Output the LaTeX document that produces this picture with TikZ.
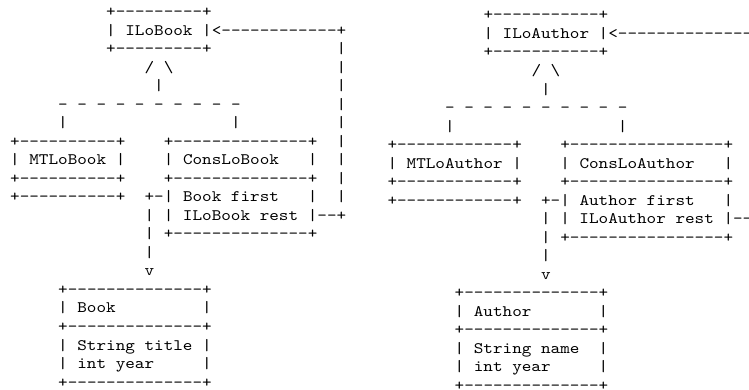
\documentclass[tikz,border=0pt]{standalone}
\usepackage{fontspec}
\setmonofont{lmmono10-regular.otf}[FakeStretch=1.143]
\newcommand\Ltok[4]{\node[tok] (#1) at ({10.2+9.6*#2},{16.5+18.53*#3}) {\spaceskip=9.6pt\relax #4};}
\newcommand\Rtok[4]{\node[tok] (#1) at ({387.5+9.6*#2},{19.9+18.53*#3}) {\spaceskip=9.6pt\relax #4};}
\begin{document}
\begin{tikzpicture}[x=1pt,y=-1pt,
  tok/.style={anchor=base west, inner sep=0pt, outer sep=0pt,
    font=\ttfamily\fontsize{16pt}{18pt}\selectfont, text=black}]
\useasboundingbox (0,0) rectangle (749,389);
\clip (0,0) rectangle (749,389);
% ---------------- left diagram ----------------
\Ltok{lb0}{10}{0}{+---------+}
\Ltok{lb1}{10}{1}{| ILoBook |<------------+}
\Ltok{lb2}{10}{2}{+---------+}
\Ltok{lv2}{34}{2}{|}
\Ltok{lh3}{14}{3}{/ \textbackslash}
\Ltok{lv3}{34}{3}{|}
\Ltok{lh4}{15}{4}{|}
\Ltok{lv4}{34}{4}{|}
\Ltok{ld5}{5}{5}{- - - - - - - - - -}
\Ltok{lv5}{34}{5}{|}
\Ltok{la6}{5}{6}{|}
\Ltok{lb6}{23}{6}{|}
\Ltok{lv6}{34}{6}{|}
\Ltok{lm7}{0}{7}{+----------+}
\Ltok{lc7}{16}{7}{+--------------+}
\Ltok{lv7}{34}{7}{|}
\Ltok{lm8}{0}{8}{| MTLoBook |}
\Ltok{lc8a}{16}{8}{|}
\Ltok{lc8b}{18}{8}{ConsLoBook}
\Ltok{lc8c}{31}{8}{|}
\Ltok{lv8}{34}{8}{|}
\Ltok{lm9}{0}{9}{+----------+}
\Ltok{lc9}{16}{9}{+--------------+}
\Ltok{lv9}{34}{9}{|}
\Ltok{lm10}{0}{10}{+----------+}
\Ltok{lc10a}{14}{10}{+-|}
\Ltok{lc10b}{18}{10}{Book first}
\Ltok{lc10c}{31}{10}{|}
\Ltok{lv10}{34}{10}{|}
\Ltok{la11}{14}{11}{|}
\Ltok{lc11}{16}{11}{| ILoBook rest |--+}
\Ltok{la12}{14}{12}{|}
\Ltok{lc12}{16}{12}{+--------------+}
\Ltok{la13}{14}{13}{|}
\Ltok{la14}{14}{14}{v}
\Ltok{lk15}{5}{15}{+--------------+}
\Ltok{lk16a}{5}{16}{| Book}
\Ltok{lk16b}{20}{16}{|}
\Ltok{lk17}{5}{17}{+--------------+}
\Ltok{lk18}{5}{18}{| String title |}
\Ltok{lk19a}{5}{19}{| int year}
\Ltok{lk19b}{20}{19}{|}
\Ltok{lk20}{5}{20}{+--------------+}
% ---------------- right diagram ----------------
\Rtok{rb0}{10}{0}{+-----------+}
\Rtok{rb1}{10}{1}{| ILoAuthor |<--------------}
\Rtok{rb2}{10}{2}{+-----------+}
\Rtok{rh3}{15}{3}{/ \textbackslash}
\Rtok{rh4}{16}{4}{|}
\Rtok{rd5}{6}{5}{- - - - - - - - - -}
\Rtok{ra6}{6}{6}{|}
\Rtok{rb6}{24}{6}{|}
\Rtok{rm7}{0}{7}{+------------+}
\Rtok{rc7}{18}{7}{+----------------+}
\Rtok{rm8}{0}{8}{| MTLoAuthor |}
\Rtok{rc8a}{18}{8}{|}
\Rtok{rc8b}{20}{8}{ConsLoAuthor}
\Rtok{rc8c}{35}{8}{|}
\Rtok{rm9}{0}{9}{+------------+}
\Rtok{rc9}{18}{9}{+----------------+}
\Rtok{rm10}{0}{10}{+------------+}
\Rtok{rc10a}{16}{10}{+-|}
\Rtok{rc10b}{20}{10}{Author first}
\Rtok{rc10c}{35}{10}{|}
\Rtok{ra11}{16}{11}{|}
\Rtok{rc11}{18}{11}{| ILoAuthor rest |--}
\Rtok{ra12}{16}{12}{|}
\Rtok{rc12}{18}{12}{+----------------+}
\Rtok{ra13}{16}{13}{|}
\Rtok{ra14}{16}{14}{v}
\Rtok{rk15}{7}{15}{+--------------+}
\Rtok{rk16a}{7}{16}{| Author}
\Rtok{rk16b}{22}{16}{|}
\Rtok{rk17}{7}{17}{+--------------+}
\Rtok{rk18a}{7}{18}{| String name}
\Rtok{rk18b}{22}{18}{|}
\Rtok{rk19a}{7}{19}{| int year}
\Rtok{rk19b}{22}{19}{|}
\Rtok{rk20}{7}{20}{+--------------+}
\end{tikzpicture}
\end{document}
